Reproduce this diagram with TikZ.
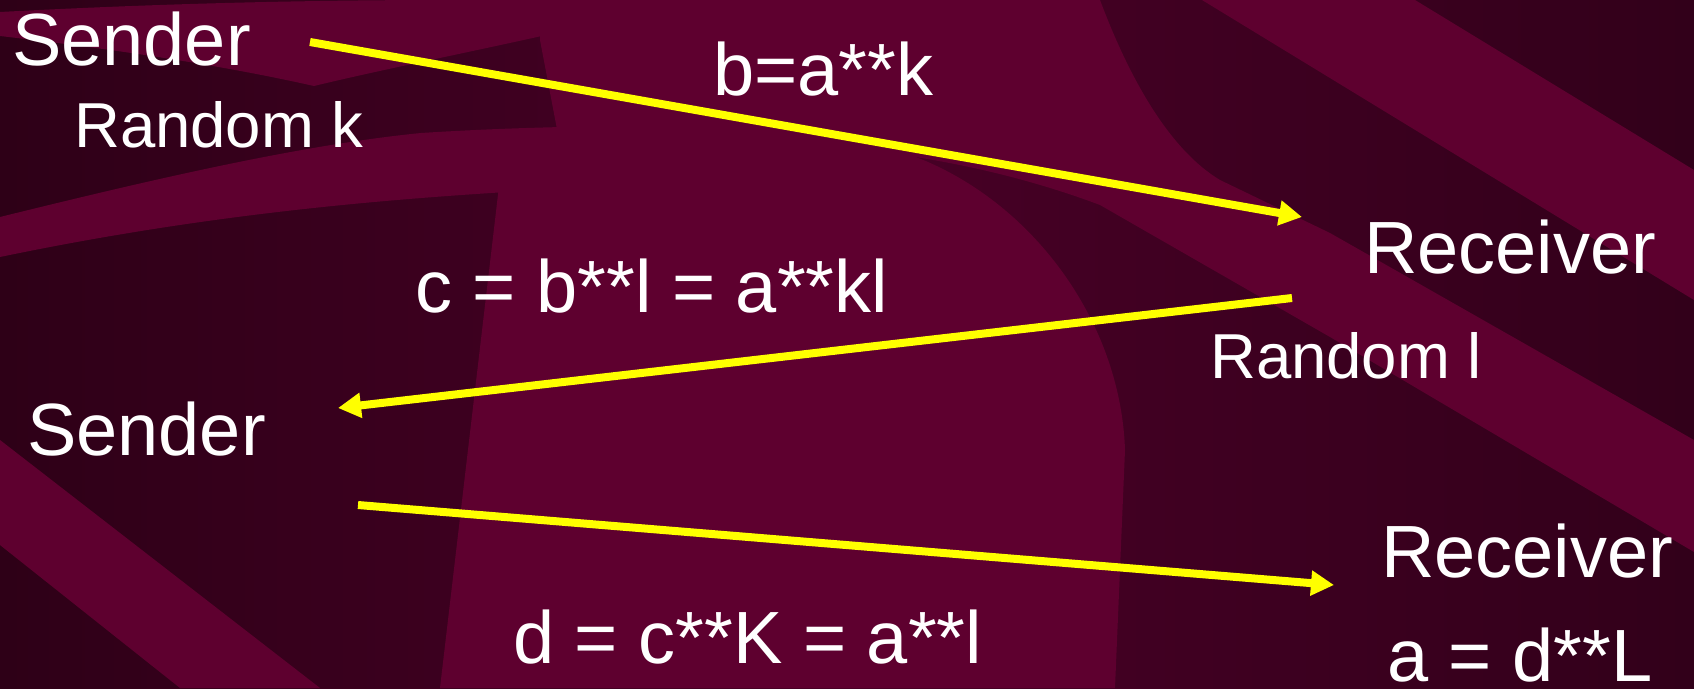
\documentclass[tikz,border=0pt]{standalone}
\usepackage{fontspec}
\setmainfont{Liberation Sans}
\usetikzlibrary{arrows.meta}
\definecolor{bgdark}{HTML}{2E0017}
\definecolor{bgmid}{HTML}{480026}
\definecolor{bgright}{HTML}{32001A}
\definecolor{band}{HTML}{5E002F}
\definecolor{arrowyellow}{HTML}{FFFF00}
\tikzset{
  big/.style={text=white, inner sep=0pt, anchor=base west, font=\fontsize{74}{80}\selectfont},
  small/.style={big, font=\fontsize{63.5}{70}\selectfont},
  msg/.style={draw=arrowyellow, line width=8pt, -{Triangle[length=23pt,width=24pt]}},
}
\begin{document}
\begin{tikzpicture}[x=1pt,y=-1pt]
\useasboundingbox (0,0) rectangle (1694,688);
\clip (0,0) rectangle (1694,688);
% background
\shade[left color=bgdark, right color=bgright, middle color=bgmid] (0,0) rectangle (1694,688);
\fill[band] (0,12) .. controls (150,4) and (300,0) .. (450,0) -- (560,0) -- (555,33)
  .. controls (480,50) and (380,70) .. (314,86) .. controls (220,65) and (120,50) .. (0,36) -- cycle;
\fill[band] (540,0) -- (1100,0) .. controls (1130,80) and (1170,150) .. (1220,180) -- (1330,233)
  -- (1694,440) -- (1694,552) -- (1330,337) -- (1100,205)
  .. controls (900,130) and (700,140) .. (560,145) -- (540,40) -- cycle;
\fill[band] (0,217) .. controls (150,180) and (300,145) .. (421,133)
  .. controls (500,128) and (560,127) .. (610,126) -- (610,186)
  .. controls (450,195) and (250,205) .. (0,257) -- cycle;
\fill[band] (505,135) -- (620,130) -- (850,140) .. controls (1000,160) and (1120,300) .. (1125,450)
  -- (1115,688) -- (440,688) -- cycle;
\fill[band] (1202,0) -- (1415,0) -- (1694,170) -- (1694,300) -- cycle;
\fill[band] (0,440) -- (320,688) -- (180,688) -- (0,545) -- cycle;
% texts
\node[big]   (sender1)   at (12,65)    {Sender};
\node[small] (randk)     at (74,147)   {Random k};
\node[big]   (msgb)      at (713,95)   {b=a**k};
\node[big]   (receiver1) at (1364,273) {Receiver};
\node[big]   (msgc)      at (415,312)  {c = b**l = a**kl};
\node[small] (randl)     at (1210,378) {Random l};
\node[big]   (sender2)   at (27,455)   {Sender};
\node[big]   (receiver2) at (1381,577) {Receiver};
\node[big]   (msgd)      at (513,663)  {d = c**K = a**l};
\node[big]   (result)    at (1387,681) {a = d**L};
% connector end points
\coordinate (s1) at (310,42);
\coordinate (r1) at (1302,217);
\coordinate (r1o) at (1292,298);
\coordinate (s2) at (338,408);
\coordinate (s2o) at (358,505);
\coordinate (r2) at (1334,585);
\draw[msg] (s1) -- (r1);
\draw[msg] (r1o) -- (s2);
\draw[msg] (s2o) -- (r2);
\end{tikzpicture}
\end{document}
